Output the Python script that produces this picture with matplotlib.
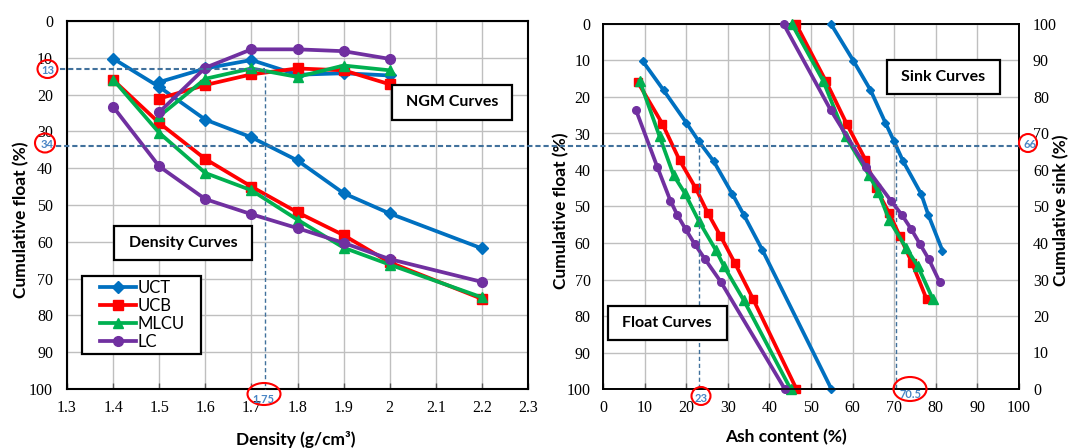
import matplotlib
matplotlib.use("Agg")
import matplotlib.pyplot as plt
from matplotlib.patches import Rectangle, Ellipse
from matplotlib.lines import Line2D
from matplotlib.legend_handler import HandlerLine2D

plt.rcParams['font.family'] = ['Liberation Serif', 'DejaVu Serif']
SANS = ['Lato', 'DejaVu Sans']

# ---------------- data ----------------
series = ["UCT", "UCB", "MLCU", "LC"]
colors = {"UCT": "#0070C0", "UCB": "#FF0000", "MLCU": "#00B050", "LC": "#7030A0"}

density = [1.4, 1.5, 1.6, 1.7, 1.8, 1.9, 2.0, 2.2]
dens_float = {
    "UCT":  [10.2, 17.9, 26.8, 31.6, 37.9, 46.8, 52.3, 61.8],
    "UCB":  [16.0, 27.7, 37.5, 45.0, 52.0, 58.2, 65.6, 75.5],
    "MLCU": [15.9, 30.4, 41.3, 46.0, 54.0, 61.6, 66.2, 75.1],
    "LC":   [23.3, 39.5, 48.4, 52.5, 56.3, 60.3, 64.7, 70.9],
}

ngm_density = [1.5, 1.6, 1.7, 1.8, 1.9, 2.0]
ngm_values = {
    "UCT":  [16.6, 12.9, 10.6, 14.6, 14.2, 14.8],
    "UCB":  [21.1, 17.4, 14.5, 12.9, 13.4, 17.2],
    "MLCU": [25.9, 15.7, 12.9, 15.2, 12.1, 13.4],
    "LC":   [24.8, 12.7, 7.7, 7.7, 8.2, 10.3],
}

float_ash = {
    "UCT":  [9.5, 14.6, 20.0, 23.0, 26.6, 31.1, 33.8, 38.3, 54.9],
    "UCB":  [8.4, 14.3, 18.4, 22.3, 25.2, 28.2, 31.7, 36.1, 46.5],
    "MLCU": [8.8, 13.6, 17.0, 19.6, 23.1, 27.1, 29.1, 33.8, 45.1],
    "LC":   [7.9, 13.1, 16.2, 17.9, 19.9, 22.0, 24.5, 28.3, 43.7],
}
float_cum = {
    "UCT":  [10.1, 18.2, 27.0, 32.1, 37.6, 46.6, 52.2, 61.9, 100],
    "UCB":  [16.0, 27.4, 37.3, 45.0, 51.8, 58.0, 65.5, 75.4, 100],
    "MLCU": [15.5, 30.8, 41.5, 46.2, 54.1, 61.9, 66.4, 75.6, 100],
    "LC":   [23.5, 39.3, 48.4, 52.4, 56.3, 60.2, 64.4, 70.6, 100],
}

sink_ash = {
    "UCT":  [54.8, 60.2, 64.3, 67.9, 69.9, 72.1, 76.5, 78.2, 81.6],
    "UCB":  [46.4, 53.6, 58.6, 63.1, 65.6, 68.8, 71.3, 74.3, 77.8],
    "MLCU": [45.4, 52.9, 58.3, 64.0, 66.2, 68.8, 72.9, 75.7, 79.3],
    "LC":   [43.4, 54.7, 63.2, 69.2, 71.9, 74.1, 76.2, 78.3, 80.9],
}
sink_cum = {
    "UCT":  [100, 89.9, 81.9, 72.9, 68.0, 62.5, 53.4, 47.7, 37.9],
    "UCB":  [100, 84.3, 72.6, 62.8, 55.0, 48.2, 42.0, 34.5, 24.6],
    "MLCU": [100, 84.5, 69.2, 58.5, 53.9, 46.3, 38.6, 33.6, 24.6],
    "LC":   [100, 76.5, 60.8, 51.6, 47.6, 43.8, 39.7, 35.6, 29.4],
}

x_ticks_left = [1.3, 1.4, 1.5, 1.6, 1.7, 1.8, 1.9, 2.0, 2.1, 2.2, 2.3]
x_ticklabels_left = ["1.3", "1.4", "1.5", "1.6", "1.7", "1.8", "1.9", "2", "2.1", "2.2", "2.3"]
y_ticks = list(range(0, 101, 10))
x_ticks_right = list(range(0, 101, 10))

read_density = 1.73
read_float_ngm = 13
read_float = 34
read_ash_float = 23
read_ash_sink = 70.5

# ---------------- layout helpers ----------------
W, H = 1072, 448
fig = plt.figure(figsize=(W / 100, H / 100), dpi=100)

def fx(px):
    return px / W

def fy(py):
    return 1 - py / H

markers = {"UCT": "D", "UCB": "s", "MLCU": "^", "LC": "o"}
msize_L = {"UCT": 6, "UCB": 6.5, "MLCU": 7.5, "LC": 7}
msize_R = {"UCT": 4.5, "UCB": 6, "MLCU": 6.5, "LC": 5.5}

grid_kw = dict(color="#BFBFBF", linewidth=1.0)

# ---------------- left axes ----------------
axL = fig.add_axes([fx(67), fy(389), (528 - 67) / W, (389 - 21) / H])
axL.set_xlim(1.3, 2.3)
axL.set_ylim(100, 0)
axL.set_xticks(x_ticks_left)
axL.set_xticklabels(x_ticklabels_left)
axL.set_yticks(y_ticks)
axL.grid(True, **grid_kw)
axL.set_axisbelow(True)
for s in axL.spines.values():
    s.set_linewidth(1.5)
    s.set_color("black")
axL.tick_params(axis="x", direction="in", length=4, width=1, color="#595959", pad=8, labelsize=11.5)
axL.tick_params(axis="y", length=0, pad=10, labelsize=11.5)

for name in series:
    axL.plot(density, dens_float[name], color=colors[name], lw=2.7, marker=markers[name],
             ms=msize_L[name], label=name, zorder=3, clip_on=False)
for name in series:
    axL.plot(ngm_density, ngm_values[name], color=colors[name], lw=2.7, marker=markers[name],
             ms=msize_L[name], zorder=3, clip_on=False)

# ---------------- right axes ----------------
axR = fig.add_axes([fx(603), fy(389), (1019 - 603) / W, (389 - 24) / H])
axR.set_xlim(0, 100)
axR.set_ylim(100, 0)
axR.set_xticks(x_ticks_right)
axR.set_yticks(y_ticks)
axR.grid(True, **grid_kw)
axR.set_axisbelow(True)
for s in axR.spines.values():
    s.set_linewidth(1.2)
    s.set_color("black")
axR.tick_params(axis="x", direction="in", length=4, width=1, color="#595959", pad=8, labelsize=11.5)
axR.tick_params(axis="y", length=0, pad=9, labelsize=11.5)

for name in series:
    axR.plot(float_ash[name], float_cum[name], color=colors[name], lw=2.7, marker=markers[name],
             ms=msize_R[name], zorder=3, clip_on=False)

axR2 = axR.twinx()
axR2.set_ylim(0, 100)
axR2.set_yticks(y_ticks)
axR2.tick_params(axis="y", length=0, pad=10, labelsize=11.5)
for s in axR2.spines.values():
    s.set_linewidth(1.2)
for name in series:
    axR2.plot(sink_ash[name], sink_cum[name], color=colors[name], lw=2.7, marker=markers[name],
              ms=msize_R[name], zorder=3, clip_on=False)

# ---------------- reading lines ----------------
dash_col = "#41719C"
axL.plot([1.3 - 7 / 461, read_density], [read_float_ngm, read_float_ngm], color=dash_col,
         lw=1.5, ls=(0, (2.5, 1.4)), clip_on=False, zorder=4)
axL.plot([read_density, read_density], [read_float_ngm, 100], color=dash_col,
         lw=1.0, ls=(0, (3, 2)), clip_on=False, zorder=4)
axR.plot([read_ash_float, read_ash_float], [read_float, 100], color=dash_col,
         lw=1.0, ls=(0, (3, 2)), clip_on=False, zorder=4)
axR.plot([read_ash_sink, read_ash_sink], [read_float, 100], color=dash_col,
         lw=1.0, ls=(0, (3, 2)), clip_on=False, zorder=4)
ytr = axL.transData.transform((1.5, read_float))[1]
yfig = fig.transFigure.inverted().transform((0, ytr))[1]
fig.add_artist(Line2D([fx(56), fx(1019)], [yfig, yfig], color=dash_col, lw=1.5,
                      ls=(0, (2.5, 1.4)), zorder=5))

# ---------------- circled annotations ----------------
def circ(cx, cy, w, h, txt, tx=None, ty=None, fs=8):
    fig.add_artist(Ellipse((fx(cx), fy(cy)), w / W, h / H, transform=fig.transFigure,
                           facecolor="none", edgecolor="#FF0000", lw=1.5, zorder=6))
    fig.text(fx(tx if tx is not None else cx), fy(ty if ty is not None else cy), txt,
             color="#4A86C5", fontsize=fs, family=SANS, fontweight="bold",
             ha="center", va="center", zorder=7)

circ(47.5, 69, 20, 18, "13", 48, 70)
circ(45, 143, 20, 19, "34", 47, 144)
circ(264, 394, 33, 22, "1.75", 263, 399)
circ(701, 396, 19, 18, "23", 701, 398)
circ(910, 389, 33, 24, "70.5", 910, 394)
circ(1028, 143, 18, 18, "66", 1030, 144)

# ---------------- text boxes ----------------
def tbox(x0, x1, y0, y1, txt, fs=11.5):
    fig.add_artist(Rectangle((fx(x0), fy(y1)), (x1 - x0) / W, (y1 - y0) / H,
                             transform=fig.transFigure, facecolor="white",
                             edgecolor="black", lw=1.6, zorder=6))
    fig.text(fx((x0 + x1) / 2), fy((y0 + y1) / 2), txt, fontsize=fs, family=SANS,
             fontweight="bold", ha="center", va="center", zorder=7)

tbox(391.5, 512, 85, 120, "NGM Curves")
tbox(113.6, 252.4, 226, 260, "Density Curves")
tbox(607.8, 726.6, 306, 340, "Float Curves")
tbox(886.7, 1000.3, 60, 94, "Sink Curves")

# ---------------- legend ----------------
leg = axL.legend(loc="upper left",
                 bbox_to_anchor=(fx(81.6), fy(364), (201.4 - 81.6) / W, (364 - 276) / H),
                 bbox_transform=fig.transFigure, mode="expand", borderaxespad=0,
                 frameon=True, fancybox=False, edgecolor="black", framealpha=1,
                 prop={"family": SANS, "size": 12}, handlelength=3.0, handletextpad=0.1,
                 borderpad=0.25, labelspacing=0.12, numpoints=1,
                 handler_map={Line2D: HandlerLine2D(xpad=0.85)})
leg.get_frame().set_linewidth(1.6)
leg.set_zorder(8)

# ---------------- axis labels ----------------
lab = dict(fontsize=12.5, family=SANS, fontweight="bold", ha="center", va="center")
fig.text(fx(21), fy(220), "Cumulative float (%)", rotation=90, **lab)
fig.text(fx(296), fy(439), "Density (g/cm³)", **lab)
fig.text(fx(561), fy(211), "Cumulative float (%)", rotation=90, **lab)
fig.text(fx(786), fy(437), "Ash content (%)", **lab)
fig.text(fx(1061), fy(210), "Cumulative sink (%)", rotation=90, **lab)

fig.savefig("out.png", dpi=100)
